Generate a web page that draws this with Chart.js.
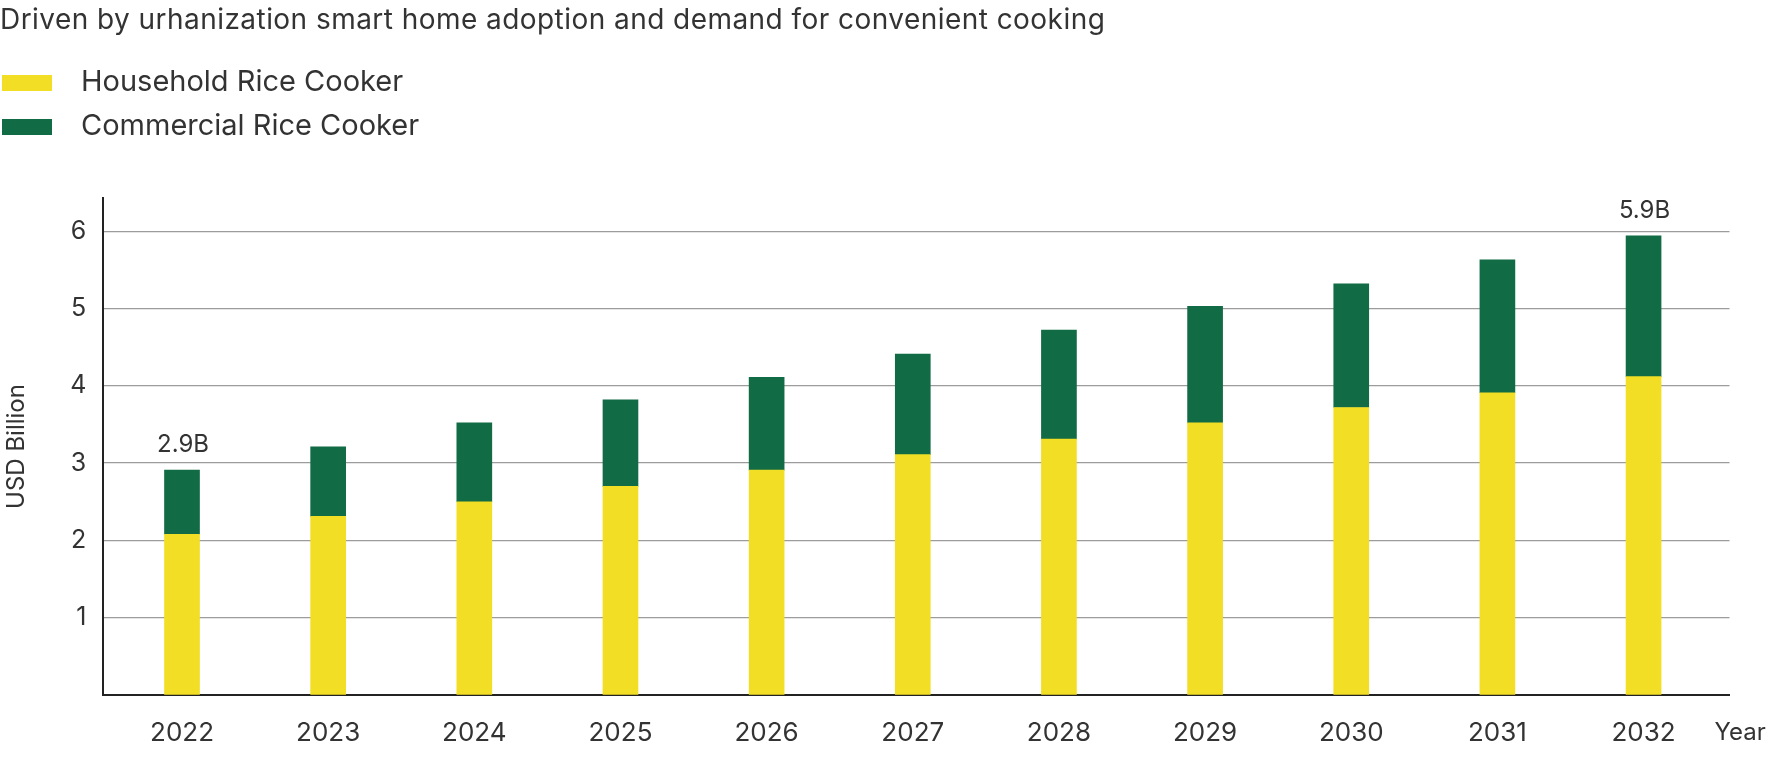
<!DOCTYPE html>
<html>
<head>
<meta charset="utf-8">
<script src="https://cdn.jsdelivr.net/npm/chart.js@4.4.1/dist/chart.umd.min.js"></script>
<style>
  html, body { margin: 0; padding: 0; background: #ffffff; }
  body { width: 1767px; height: 760px; position: relative; overflow: hidden; font-family: Inter, "Noto Sans", sans-serif; color: #333333; }
  #wrap { position: absolute; left: 0; top: 0; width: 1767px; height: 760px; }
  .title { position: absolute; left: 0; top: 5px; font-size: 28px; line-height: 28px; white-space: nowrap; letter-spacing: 0.45px; }
  .leg-box { position: absolute; left: 2px; width: 50px; height: 16px; }
  .leg-text { position: absolute; left: 81px; font-size: 29px; line-height: 29px; white-space: nowrap; }
</style>
</head>
<body>
<div id="wrap"><canvas id="c" width="1767" height="760"></canvas></div>
<div class="title" id="title"></div>
<div id="legend"></div>
<script>
// ---- data ----
const chartTitle = 'Driven by urhanization smart home adoption and demand for convenient cooking';
const years = ['2022','2023','2024','2025','2026','2027','2028','2029','2030','2031','2032'];
const seriesNames = ['Household Rice Cooker', 'Commercial Rice Cooker'];
const household = [2.08, 2.31, 2.50, 2.70, 2.91, 3.11, 3.31, 3.52, 3.72, 3.91, 4.12];
const commercial = [0.83, 0.90, 1.02, 1.12, 1.20, 1.30, 1.41, 1.51, 1.60, 1.72, 1.82];
const callouts = ['2.9B', '', '', '', '', '', '', '', '', '', '5.9B'];
const yTicks = [1, 2, 3, 4, 5, 6];
const yAxisTitle = 'USD Billion';
const xAxisTitle = 'Year';

// ---- styles ----
const colors = ['#F2DE24', '#116B45'];
const textColor = '#333333';

document.getElementById('title').textContent = chartTitle;
const legendEl = document.getElementById('legend');
const legTops = [66, 110];
const boxTops = [75, 119];
seriesNames.forEach((name, i) => {
  const box = document.createElement('div');
  box.className = 'leg-box';
  box.style.top = boxTops[i] + 'px';
  box.style.background = colors[i];
  legendEl.appendChild(box);
  const t = document.createElement('div');
  t.className = 'leg-text';
  t.style.top = legTops[i] + 'px';
  t.textContent = name;
  legendEl.appendChild(t);
});

const toPoints = arr => arr.map((v, i) => ({ x: i, y: v }));

const calloutPlugin = {
  id: 'callouts',
  afterDatasetsDraw(chart) {
    const ctx = chart.ctx;
    const meta = chart.getDatasetMeta(1);
    ctx.save();
    ctx.font = '24px Inter, "Noto Sans", sans-serif';
    ctx.fillStyle = textColor;
    ctx.textAlign = 'center';
    ctx.textBaseline = 'middle';
    meta.data.forEach((bar, i) => {
      if (callouts[i]) ctx.fillText(callouts[i], bar.x + 1, bar.y - 25);
    });
    // x axis title at the right end
    const xs = chart.scales.x;
    ctx.font = '24px Inter, "Noto Sans", sans-serif';
    ctx.textAlign = 'left';
    ctx.fillText(xAxisTitle, xs.right - 15, xs.top + 38);
    ctx.restore();
  }
};

new Chart(document.getElementById('c'), {
  type: 'bar',
  data: {
    datasets: [
      { label: seriesNames[0], data: toPoints(household), backgroundColor: colors[0], barThickness: 35, borderWidth: 0 },
      { label: seriesNames[1], data: toPoints(commercial), backgroundColor: colors[1], barThickness: 35, borderWidth: 0 }
    ]
  },
  options: {
    responsive: false,
    animation: false,
    devicePixelRatio: 1,
    layout: { padding: { top: 198, right: 37.5, left: 0, bottom: 0 } },
    plugins: { legend: { display: false }, title: { display: false }, tooltip: { enabled: false } },
    scales: {
      x: {
        type: 'linear',
        stacked: true,
        offset: false,
        min: -0.5385,
        max: 10.588,
        afterBuildTicks: (scale) => { scale.ticks = years.map((y, i) => ({ value: i })); },
        afterFit: (scale) => { scale.height = 65; },
        grid: { display: false, drawTicks: false },
        border: { display: true, color: '#222222', width: 2 },
        ticks: {
          autoSkip: false,
          maxRotation: 0,
          padding: 23,
          color: textColor,
          font: { family: 'Inter', size: 26 },
          callback: (v) => years[v] !== undefined ? years[v] : ''
        }
      },
      y: {
        stacked: true,
        min: 0,
        max: 6.43,
        afterBuildTicks: (scale) => { scale.ticks = [{ value: 0 }].concat(yTicks.map(v => ({ value: v }))); },
        afterFit: (scale) => { scale.width = 103.3; },
        grid: {
          drawTicks: false,
          color: (c) => c.tick && c.tick.value === 0 ? 'rgba(0,0,0,0)' : '#9c9c9c',
          lineWidth: 1.3
        },
        border: { display: true, color: '#222222', width: 2 },
        ticks: {
          padding: 17,
          color: textColor,
          font: { family: 'Inter', size: 25 },
          callback: (v) => v === 0 ? '' : String(v)
        },
        title: {
          display: true,
          text: yAxisTitle,
          color: textColor,
          font: { family: 'Inter', size: 24 },
          padding: { top: 2, bottom: 0 }
        }
      }
    }
  },
  plugins: [calloutPlugin]
});
</script>
</body>
</html>
